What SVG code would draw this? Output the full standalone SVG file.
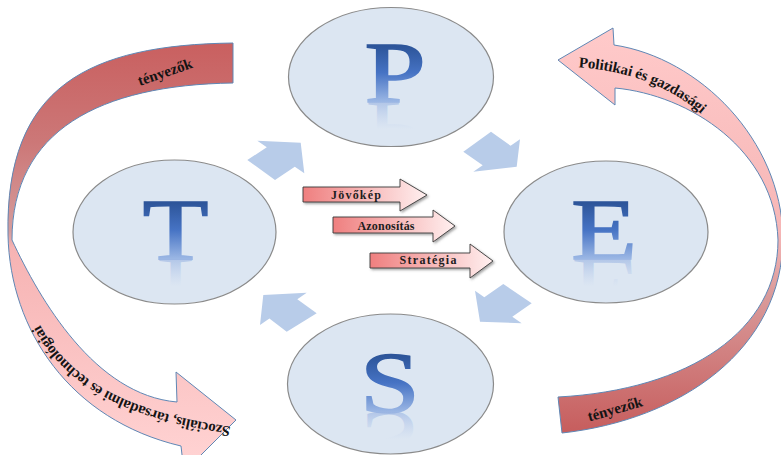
<svg xmlns="http://www.w3.org/2000/svg" width="781" height="455" viewBox="0 0 781 455">
  <defs>
    <style>
      .circle { fill: #dce6f2; stroke: #8a8a8a; stroke-width: 1.2; }
      .letter { font-family: 'Liberation Serif', 'Times New Roman', serif; font-size: 86px; text-anchor: middle; fill: url(#letterFill); stroke: url(#letterFill); stroke-width: 1.6; }
      .letter-reflection { font-family: 'Liberation Serif', 'Times New Roman', serif; font-size: 86px; text-anchor: middle; fill: url(#reflectFill); }
      .band { stroke: #5f87b5; stroke-width: 1; }
      .band-label { font-family: 'Liberation Serif', 'Times New Roman', serif; font-weight: bold; font-size: 15px; fill: #141414; dominant-baseline: central; }
      .cycle-arrow { fill: #b8cce9; }
      .step { fill: url(#stepFill); stroke: #3a3a3a; stroke-width: 0.9; filter: url(#stepShadow); }
      .step-label { font-family: 'Liberation Serif', 'Times New Roman', serif; font-weight: bold; font-size: 12px; fill: #1e1e1e; text-anchor: middle; }
    </style>
    <linearGradient id="letterFill" x1="0" y1="0" x2="0" y2="1">
      <stop offset="0.22" stop-color="#2d559a"/>
      <stop offset="0.5" stop-color="#4673c4"/>
      <stop offset="0.8" stop-color="#9ab6e4"/>
    </linearGradient>
    <linearGradient id="reflectFill" x1="0" y1="0" x2="0" y2="1">
      <stop offset="0" stop-color="#b4c8ec" stop-opacity="0"/>
      <stop offset="0.52" stop-color="#b4c8ec" stop-opacity="0"/>
      <stop offset="0.79" stop-color="#9ab4e2" stop-opacity="0.6"/>
    </linearGradient>
    <linearGradient id="leftBandFill" gradientUnits="userSpaceOnUse" x1="0" y1="40" x2="0" y2="455">
      <stop offset="0" stop-color="#c95f5f"/>
      <stop offset="0.25" stop-color="#cc7878"/>
      <stop offset="0.46" stop-color="#d59c9c"/>
      <stop offset="0.5" stop-color="#f6b3b3"/>
      <stop offset="1" stop-color="#ffd2d2"/>
    </linearGradient>
    <linearGradient id="rightBandFill" gradientUnits="userSpaceOnUse" x1="0" y1="28" x2="0" y2="435">
      <stop offset="0" stop-color="#ffcaca"/>
      <stop offset="0.5" stop-color="#f6b6b6"/>
      <stop offset="0.66" stop-color="#d99a9a"/>
      <stop offset="1" stop-color="#c65c5c"/>
    </linearGradient>
    <linearGradient id="stepFill" x1="0" y1="0" x2="1" y2="0">
      <stop offset="0" stop-color="#ef7f7f"/>
      <stop offset="1" stop-color="#fff0f0"/>
    </linearGradient>
    <filter id="stepShadow" x="-10%" y="-20%" width="130%" height="150%">
      <feDropShadow dx="1.5" dy="1.5" stdDeviation="0.8" flood-color="#555" flood-opacity="0.55"/>
    </filter>
    <path id="leftLabelPath" d="M232,432 C150,420 55,395 24,300"/>
    <path id="rightLabelPath" d="M574,62 C625,65 682,80 724,130"/>
  </defs>

  <rect width="781" height="455" fill="#ffffff"/>

  <!-- left sweeping arrow: social, societal and technological factors -->
  <g id="band-left">
    <path class="band" fill="url(#leftBandFill)" d="M233,43 C90,45 5,85 8,235 C10,330 70,420 181,446 L184,472 L236,420 L176,372 L177,402 C95,395 40,300 12,240 C12,130 100,85 233,83 Z"/>
    <text class="band-label" x="165" y="72" text-anchor="middle" transform="rotate(-19 165 72)">tényezők</text>
    <text class="band-label"><textPath href="#leftLabelPath" startOffset="2">Szociális, társadalmi és technológiai</textPath></text>
  </g>

  <!-- right sweeping arrow: political and economic factors -->
  <g id="band-right">
    <path class="band" fill="url(#rightBandFill)" d="M558,60 L613,28 L614,45 C700,58 781,140 783,237 C783,350 680,420 562,433 L558,397 C690,390 778,330 778,240 C775,150 690,95 615,88 L615,105 Z"/>
    <text class="band-label"><textPath href="#rightLabelPath" startOffset="5">Politikai és gazdasági</textPath></text>
    <text class="band-label" x="615" y="409" text-anchor="middle" transform="rotate(-16 615 409)">tényezők</text>
  </g>

  <!-- the four stages -->
  <g id="node-P">
    <ellipse class="circle" cx="391" cy="77" rx="102.5" ry="69.5"/>
    <g transform="translate(395,0) scale(1.28,1)">
      <text class="letter" x="0" y="102">P</text>
      <text class="letter-reflection" x="0" y="102" transform="translate(0,204) scale(1,-1)">P</text>
    </g>
  </g>
  <g id="node-T">
    <ellipse class="circle" cx="174.5" cy="232" rx="101.5" ry="72"/>
    <g transform="translate(175.5,0) scale(1.25,1)">
      <text class="letter" x="0" y="259">T</text>
      <text class="letter-reflection" x="0" y="259" transform="translate(0,518) scale(1,-1)">T</text>
    </g>
  </g>
  <g id="node-E">
    <ellipse class="circle" cx="606" cy="232" rx="102" ry="71"/>
    <g transform="translate(604,0) scale(1.25,1)">
      <text class="letter" x="0" y="259">E</text>
      <text class="letter-reflection" x="0" y="259" transform="translate(0,518) scale(1,-1)">E</text>
    </g>
  </g>
  <g id="node-S">
    <ellipse class="circle" cx="390.5" cy="384" rx="103" ry="70"/>
    <g transform="translate(390,0) scale(1.25,1)">
      <text class="letter" x="0" y="412">S</text>
      <text class="letter-reflection" x="0" y="412" transform="translate(0,824) scale(1,-1)">S</text>
    </g>
  </g>

  <!-- cycle connectors T → P → E → S → T -->
  <g id="connectors">
    <polygon class="cycle-arrow" points="300.7,142.7 304.3,173.3 294.8,166.7 275,180 247.3,160 266.8,147.3 257.3,140.7"/>
    <polygon class="cycle-arrow" points="491,131.7 510.6,145.8 520,139.3 516.7,166.7 473.3,171.7 482.7,165.2 463.3,151.7"/>
    <polygon class="cycle-arrow" points="503.3,284 484.3,297.2 475,290.7 480,321.7 521.7,323.3 512.3,316.8 531.7,303.3"/>
    <polygon class="cycle-arrow" points="263.3,295 306.7,292.7 297.3,299.2 316.7,313.3 286.7,331.7 269.4,318.5 260,325"/>
  </g>

  <!-- central steps -->
  <g id="step-jovokep">
    <path class="step" d="M303,187 H400 V179 L427,195 L400,211 V202 H303 Z"/>
    <text class="step-label" x="356" y="199" textLength="50" lengthAdjust="spacing">Jövőkép</text>
  </g>
  <g id="step-azonositas">
    <path class="step" d="M333,217 H433 V210 L455,226 L433,242 V233 H333 Z"/>
    <text class="step-label" x="386" y="230" textLength="57" lengthAdjust="spacing">Azonosítás</text>
  </g>
  <g id="step-strategia">
    <path class="step" d="M370,253 H470 V244 L493,261 L470,278 V268 H370 Z"/>
    <text class="step-label" x="428" y="264" textLength="57" lengthAdjust="spacing">Stratégia</text>
  </g>
</svg>
